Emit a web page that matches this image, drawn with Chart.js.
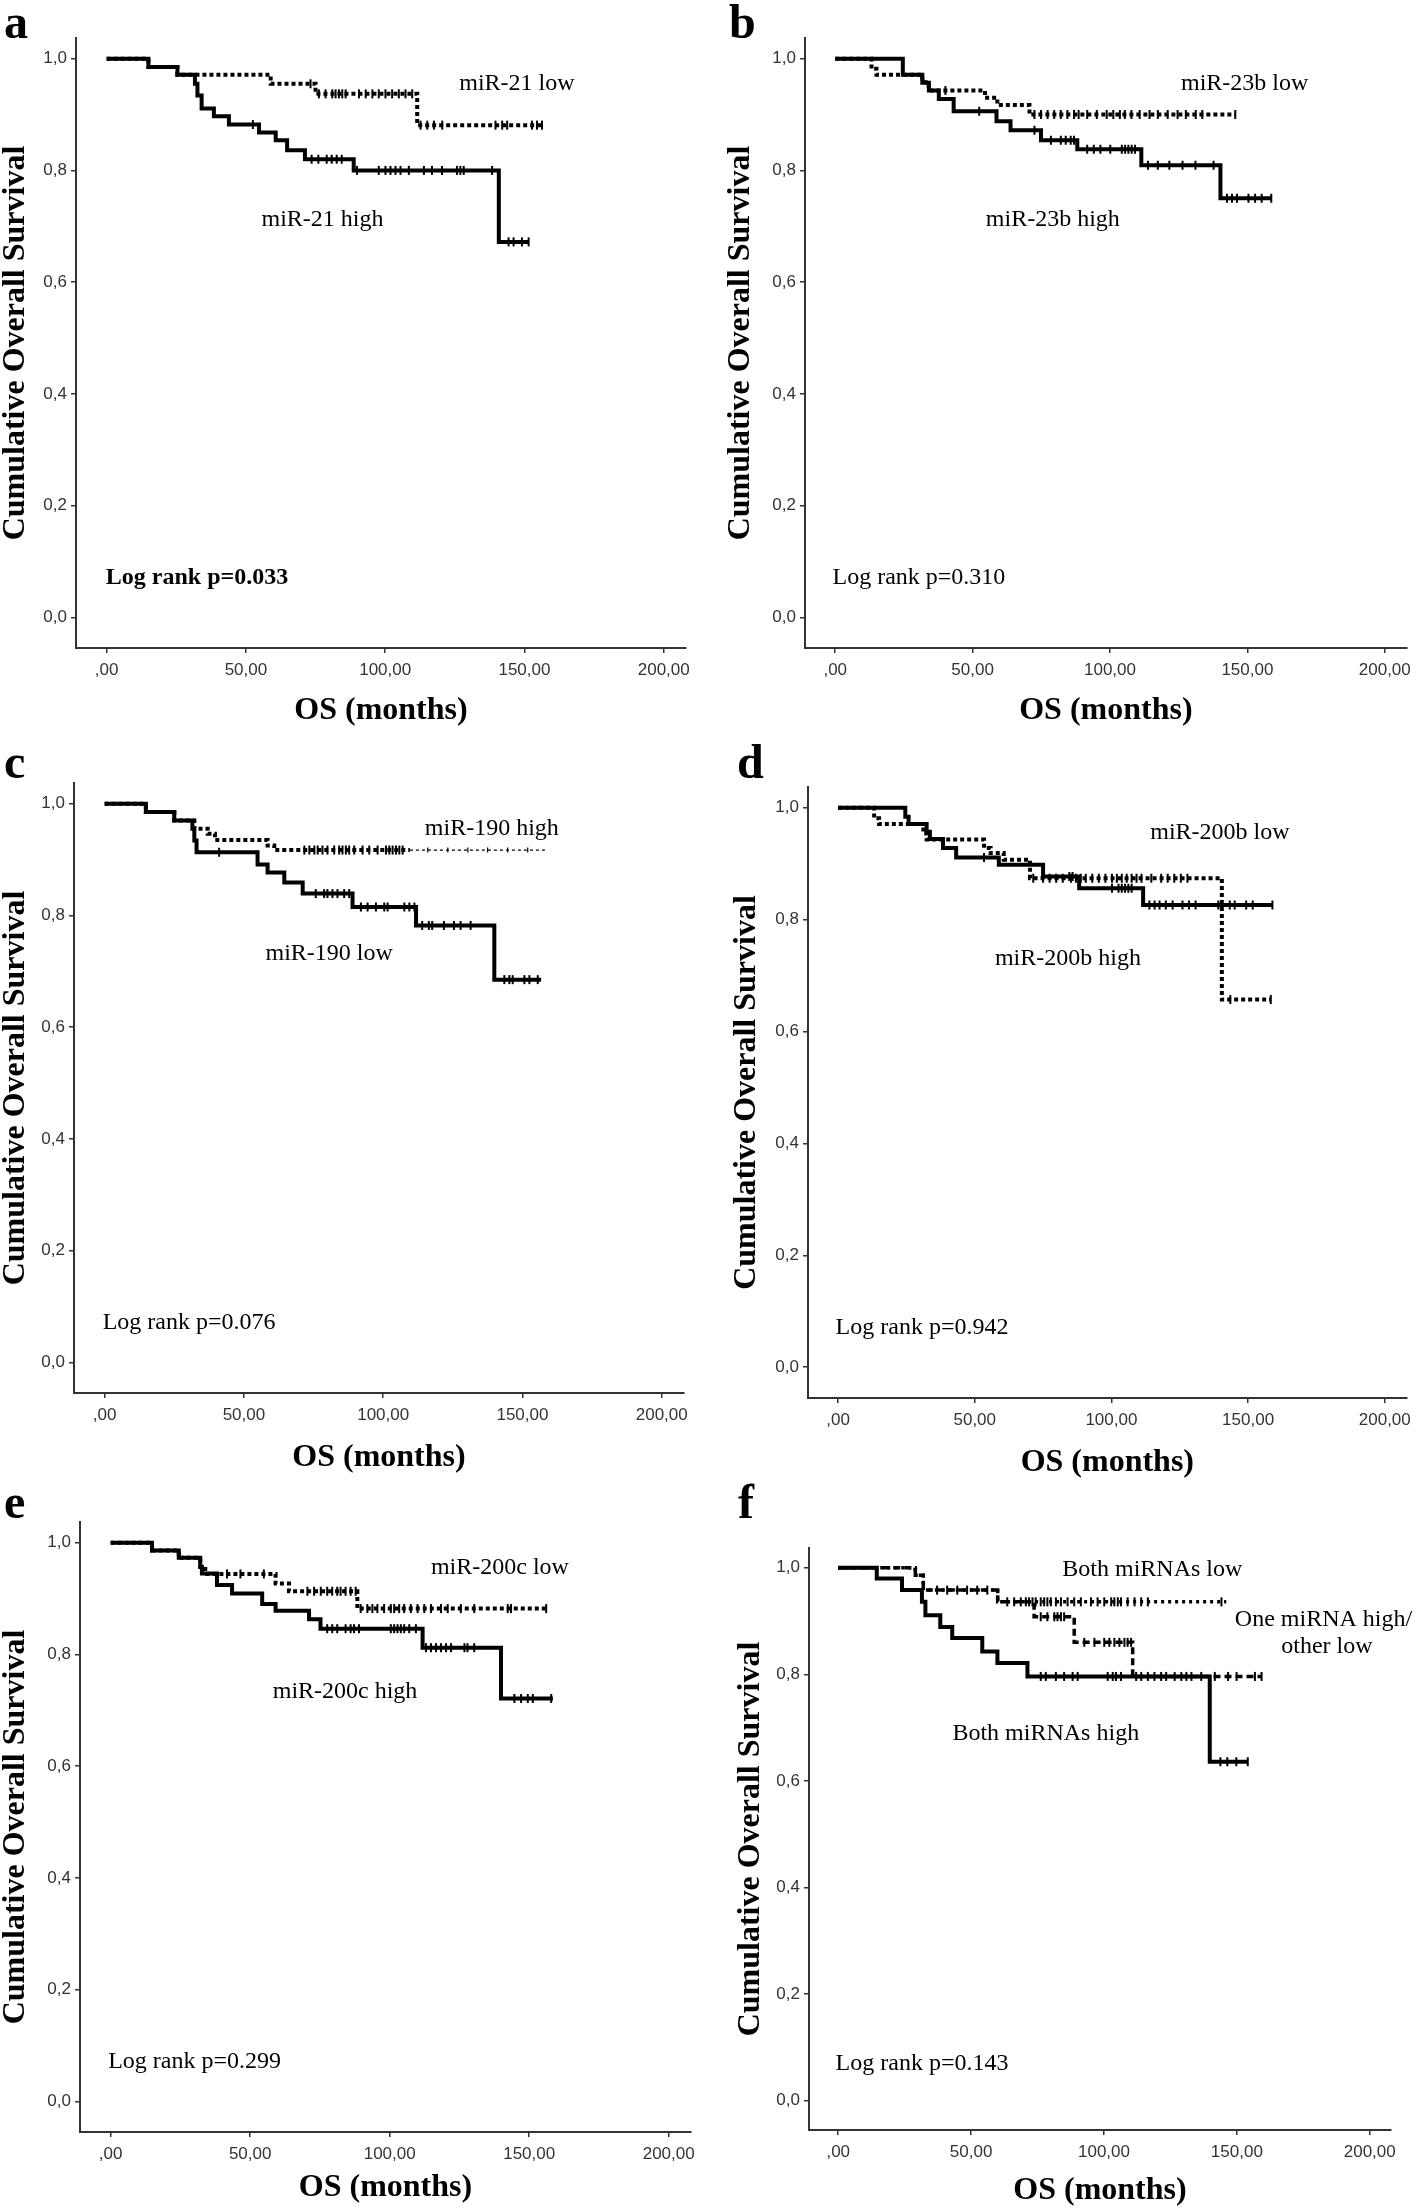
<!DOCTYPE html>
<html>
<head>
<meta charset="utf-8">
<title>Overall survival by miRNA expression</title>
<script src="https://cdn.jsdelivr.net/npm/chart.js@4.4.1/dist/chart.umd.min.js"></script>
<style>
  html, body { margin: 0; padding: 0; background: #fff; }
  #page { position: relative; width: 1418px; height: 2212px; overflow: hidden; background: #fff; }
  #page canvas { position: absolute; }
  .letter { position: absolute; font: bold 48px "Liberation Serif", "Times New Roman", serif; line-height: 1; color: #000; }
</style>
</head>
<body>
<div id="page">
  <canvas id="chartA"></canvas>
  <canvas id="chartB"></canvas>
  <canvas id="chartC"></canvas>
  <canvas id="chartD"></canvas>
  <canvas id="chartE"></canvas>
  <canvas id="chartF"></canvas>
  <div class="letter" style="left:4px;top:-2px">a</div>
  <div class="letter" style="left:729px;top:-2px">b</div>
  <div class="letter" style="left:4px;top:738px">c</div>
  <div class="letter" style="left:737px;top:738px">d</div>
  <div class="letter" style="left:4px;top:1478px">e</div>
  <div class="letter" style="left:738px;top:1478px">f</div>
</div>
<script>
// axis ticks
const xTickValues = [0, 50, 100, 150, 200];
const xTickLabels = [',00', '50,00', '100,00', '150,00', '200,00'];
const yTickValues = [0, 0.2, 0.4, 0.6, 0.8, 1.0];
const yTickLabels = ['0,0', '0,2', '0,4', '0,6', '0,8', '1,0'];
const X_MIN = -11, X_MAX = 208;
const Y_MIN = -0.055, Y_MAX = 1.037;

// a: miR-21
const aHighT = [0, 15, 25.4, 31.7, 32.6, 34.1, 38.5, 43.9, 54.7, 60.7, 64.8, 71.2, 88.7, 140.8, 151.5];
const aHighS = [1, 0.985, 0.971, 0.955, 0.934, 0.911, 0.897, 0.882, 0.868, 0.854, 0.836, 0.820, 0.800, 0.672, 0.672];
const aHighCens = [52.5, 73.6, 76, 79, 80.8, 82.6, 84.4, 89.9, 97.7, 100.1, 101.9, 103.7, 105.5, 108.5, 113.9, 116.8, 120.4, 125.8, 127, 128.2, 138.4, 144.3, 146.1, 149.1, 151.5];
const aLowT = [0, 15, 25.4, 58.9, 75, 111.5, 156.3];
const aLowS = [1, 0.985, 0.971, 0.955, 0.937, 0.881, 0.881];
const aLowCens = [73.2, 76.2, 78.6, 81, 82.2, 83.4, 84.6, 85.8, 90.6, 93, 95.4, 97.7, 100.1, 102.5, 104.9, 107.3, 109.7, 112.7, 115.1, 117.5, 120.5, 139.6, 142, 143.8, 152.7, 154.5, 156.3];

// b: miR-23b
const bHighT = [0, 24.6, 31.7, 34.1, 37.7, 43.1, 58.7, 63.8, 74.9, 88.1, 111.4, 140.2, 158.7];
const bHighS = [1, 0.971, 0.957, 0.943, 0.928, 0.906, 0.888, 0.872, 0.854, 0.838, 0.809, 0.750, 0.750];
const bHighCens = [52.4, 72.5, 78.5, 82.1, 83.9, 85.7, 86.9, 91.7, 94.1, 96.5, 100.1, 104.3, 105.5, 106.7, 107.9, 109.1, 113.8, 117.4, 121.6, 126.4, 131.1, 137.7, 142.6, 144.4, 146.2, 150.4, 152.8, 155.2, 158.7];
const bLowT = [0, 13.2, 15, 31.7, 34, 54.5, 59, 70.7, 145.6];
const bLowS = [1, 0.982, 0.971, 0.958, 0.943, 0.930, 0.917, 0.900, 0.900];
const bLowCens = [40.1, 72.5, 74.9, 77.3, 79.7, 82.1, 84.5, 86.9, 88.6, 91.7, 95.2, 98.8, 101.2, 103.6, 105.4, 107.8, 110.8, 114.4, 117.4, 121, 124.6, 127.6, 131.2, 133.6, 145.6];

// c: miR-190
const cLowT = [0, 14.8, 25, 31.5, 32.2, 33, 54.9, 58.5, 64.5, 71.1, 89, 111.8, 139.9, 156.7];
const cLowS = [1, 0.985, 0.970, 0.955, 0.934, 0.913, 0.891, 0.877, 0.859, 0.839, 0.815, 0.782, 0.685, 0.685];
const cLowCens = [41.1, 75.8, 78.8, 80, 81.8, 83.6, 86, 87.8, 92, 94.4, 97.4, 100.4, 101.6, 107.6, 109.4, 111.2, 114, 116.4, 117.6, 121.8, 125.4, 127.8, 131.4, 143.5, 145.3, 146.5, 150.7, 152.5, 155.5];
const cHighT = [0, 14.8, 25, 32.2, 37, 39.6, 58.5, 60.9, 109.6, 158.5];
const cHighS = [1, 0.985, 0.970, 0.955, 0.946, 0.935, 0.925, 0.917, 0.917, 0.917];
const cHighCens = [71.7, 73.5, 75.3, 76.5, 78.2, 80, 82.4, 84.2, 85.4, 86.6, 87.8, 89.6, 92.6, 95, 98, 101, 102.2, 103.4, 104.6, 105.8, 107, 116, 123.2, 130.4, 137.5, 144.7, 151.9];
const C_THIN_FROM = 109.6; // the high curve is drawn thin after this time

// d: miR-200b
const dHighT = [0, 24.6, 25.8, 32.4, 33.6, 38.4, 43.2, 58.8, 75, 88.2, 111.6, 158.9];
const dHighS = [1, 0.984, 0.971, 0.957, 0.944, 0.928, 0.911, 0.898, 0.877, 0.856, 0.826, 0.826];
const dHighCens = [53.4, 84.6, 85.8, 100.2, 102.6, 103.8, 105, 106.2, 107.4, 113.9, 115.8, 117.6, 119.9, 122.4, 126, 128.4, 130.8, 139.1, 143.3, 145.1, 149.3, 151.7, 158.9];
const dLowT = [0, 13.2, 15, 31.2, 32.4, 53.4, 55.8, 60.6, 70.2, 140.4, 158.3];
const dLowS = [1, 0.981, 0.971, 0.954, 0.943, 0.928, 0.919, 0.907, 0.874, 0.657, 0.657];
const dLowCens = [71.4, 75, 77.4, 79.8, 82.2, 85.2, 87, 88.8, 90.6, 93, 95.4, 97.8, 100.2, 102, 103.8, 105.6, 107.4, 109.2, 111, 114.6, 118.2, 120.6, 123, 125.4, 127.8, 143.5, 158.3];

// e: miR-200c
const eHighT = [0, 14.8, 24.4, 32.1, 32.7, 38.1, 43.5, 54.3, 59.1, 71.1, 75.2, 111.8, 139.9, 158.5];
const eHighS = [1, 0.986, 0.973, 0.957, 0.945, 0.924, 0.909, 0.890, 0.878, 0.863, 0.846, 0.812, 0.721, 0.721];
const eHighCens = [77.6, 79.4, 81.2, 84.2, 86, 87.2, 89, 100.4, 101.6, 102.8, 104, 105.2, 107, 109.4, 113, 114.8, 116.6, 118.4, 120.2, 122, 126.8, 127.9, 130.3, 144.7, 147.1, 149.5, 151.3, 157.9];
const eLowT = [0, 14.8, 24.4, 32.1, 33.9, 59.1, 63.9, 88.4, 156.1];
const eLowS = [1, 0.986, 0.973, 0.957, 0.944, 0.927, 0.913, 0.882, 0.882];
const eLowCens = [41.7, 46.5, 54.9, 70.5, 72.9, 75.3, 77.6, 79.4, 81.2, 82.4, 84.2, 86, 87.8, 89.6, 92, 93.8, 95.6, 98, 100.4, 101.6, 103.4, 105.2, 107.6, 110, 112.4, 114.8, 118.4, 120.8, 125.5, 130.3, 142.3, 143.5, 156.1];

// f: combined miRNAs
const fBothHighT = [0, 14.5, 24, 31.5, 32.8, 38.4, 42.9, 54.2, 59.9, 71.2, 139.8, 154.1];
const fBothHighS = [1, 0.980, 0.958, 0.936, 0.911, 0.889, 0.868, 0.843, 0.821, 0.796, 0.636, 0.636];
const fBothHighCens = [76.2, 78.1, 81.9, 85, 88.2, 90.1, 101.4, 103.3, 104.5, 106.4, 143.8, 146.4, 149.8, 154.1];
const fBothLowT = [0, 29, 32, 60, 146];
const fBothLowS = [1, 0.986, 0.958, 0.936, 0.936];
const fBothLowCens = [37.2, 41, 44.8, 48.5, 52.3, 56.1, 63.6, 66.2, 68.7, 70.6, 71.8, 73.1, 74.3, 76.2, 77.5, 78.7, 80, 81.9, 83.8, 86.3, 88.8, 91.3, 95.1, 97.6, 100.1, 102.7, 103.9, 105.2, 106.4, 108.9, 111.5, 114, 116.5, 144.2];
const fMixedT = [0, 29, 32, 60, 73.7, 88.8, 110.8, 159.3];
const fMixedS = [1, 0.986, 0.958, 0.936, 0.908, 0.86, 0.796, 0.796];
const fMixedCens = [76.2, 78.7, 81.3, 82.5, 83.8, 85, 92.6, 96.4, 100.1, 102, 103.9, 105.8, 107.7, 108.9, 110.2, 112.1, 114, 116.5, 119, 121.5, 123.4, 126.6, 129.1, 131, 132.9, 136.6, 141.7, 146.7, 149.9, 156.8, 159.3];

const SERIF = '"Liberation Serif", "Times New Roman", serif';
const SANS = '"Liberation Sans", Arial, sans-serif';
const AXIS_COLOR = '#333';

Chart.defaults.font.family = SANS;
Chart.defaults.animation = false;

// survival value of a step curve at time t
function survAt(times, surv, t) {
  let v = surv[0];
  for (let i = 0; i < times.length; i++) {
    if (times[i] <= t) v = surv[i];
  }
  return v;
}

const solid = { borderWidth: 4, borderDash: [] };
const dotted = { borderWidth: 4, borderDash: [4, 3] };

function curve(times, surv, style, extra) {
  return Object.assign({
    data: times.map((t, i) => ({ x: t, y: surv[i] })),
    stepped: 'before', // horizontal first, then drop at the event time
    borderColor: '#000',
    borderCapStyle: 'butt',
    pointRadius: 0,
    fill: false
  }, style, extra || {});
}

function censors(times, surv, cens, extra) {
  return Object.assign({
    data: cens.map(c => ({ x: c, y: survAt(times, surv, c) })),
    showLine: false,
    pointStyle: 'line',
    rotation: 90,
    pointRadius: 4.5,
    borderWidth: 2,
    borderColor: '#000',
    backgroundColor: '#000'
  }, extra || {});
}

// text labels drawn in data coordinates
const notesPlugin = {
  id: 'notes',
  afterDatasetsDraw(chart, args, opts) {
    const { ctx } = chart;
    const x = chart.scales.x, y = chart.scales.y;
    (opts.items || []).forEach(n => {
      ctx.save();
      ctx.font = (n.bold ? 'bold ' : '') + '24px ' + SERIF;
      ctx.fillStyle = '#000';
      ctx.textAlign = n.align || 'center';
      ctx.textBaseline = 'middle';
      ctx.fillText(n.text, x.getPixelForValue(n.t), y.getPixelForValue(n.s));
      ctx.restore();
    });
  }
};

function makePanel(id, box, datasets, notes) {
  const [L, T, R, B] = box.plot;
  const el = document.getElementById(id);
  el.width = box.width;
  el.height = box.height;
  el.style.left = box.left + 'px';
  el.style.top = box.top + 'px';

  return new Chart(el, {
    type: 'line',
    data: { datasets: datasets },
    plugins: [notesPlugin],
    options: {
      responsive: false,
      maintainAspectRatio: false,
      layout: { padding: { left: 0, top: T - box.top, right: box.left + box.width - R, bottom: 0 } },
      plugins: {
        legend: { display: false },
        tooltip: { enabled: false },
        notes: { items: notes }
      },
      scales: {
        x: {
          type: 'linear',
          min: X_MIN,
          max: X_MAX,
          afterBuildTicks: s => { s.ticks = xTickValues.map(v => ({ value: v })); },
          afterFit: s => { s.height = box.top + box.height - B; },
          ticks: {
            callback: (v, i) => xTickLabels[i],
            color: AXIS_COLOR,
            font: { size: 17 },
            padding: 7,
            maxRotation: 0
          },
          grid: { drawOnChartArea: false, drawTicks: true, tickLength: 5, color: AXIS_COLOR, lineWidth: 1.5 },
          border: { color: AXIS_COLOR, width: 2 },
          title: {
            display: true,
            text: 'OS (months)',
            color: '#000',
            font: { family: SERIF, size: 32, weight: 'bold', lineHeight: 1 },
            padding: { top: 0, bottom: box.xTitlePad }
          }
        },
        y: {
          type: 'linear',
          min: Y_MIN,
          max: Y_MAX,
          afterBuildTicks: s => { s.ticks = yTickValues.map(v => ({ value: v })); },
          afterFit: s => { s.width = L - box.left; },
          ticks: {
            callback: (v, i) => yTickLabels[i],
            color: AXIS_COLOR,
            font: { size: 17 },
            padding: 4
          },
          grid: { drawOnChartArea: false, drawTicks: true, tickLength: 5, color: AXIS_COLOR, lineWidth: 1.5 },
          border: { color: AXIS_COLOR, width: 2 },
          title: {
            display: true,
            text: 'Cumulative Overall Survival',
            color: '#000',
            font: { family: SERIF, size: 32, weight: 'bold', lineHeight: 1 },
            padding: { top: box.yTitlePad, bottom: 0 }
          }
        }
      }
    }
  });
}

// panel placement on the page: canvas box and plot rectangle [left, top, right, bottom]
const boxes = {
  a: { left: 0, top: 0, width: 709, height: 740, plot: [76, 38, 686, 648], yTitlePad: 0, xTitlePad: 13 },
  b: { left: 709, top: 0, width: 709, height: 740, plot: [805, 38, 1416, 648], yTitlePad: 16, xTitlePad: 13 },
  c: { left: 0, top: 740, width: 709, height: 740, plot: [74, 783, 684, 1393], yTitlePad: 0, xTitlePad: 6 },
  d: { left: 709, top: 740, width: 709, height: 740, plot: [808, 787, 1417, 1398], yTitlePad: 22, xTitlePad: 1 },
  e: { left: 0, top: 1480, width: 709, height: 732, plot: [80, 1522, 691, 2132], yTitlePad: 0, xTitlePad: 8 },
  f: { left: 709, top: 1480, width: 709, height: 732, plot: [809, 1548, 1391, 2130], yTitlePad: 26, xTitlePad: 5 }
};

makePanel('chartA', boxes.a, [
  curve(aHighT, aHighS, solid),
  censors(aHighT, aHighS, aHighCens),
  curve(aLowT, aLowS, dotted),
  censors(aLowT, aLowS, aLowCens)
], [
  { text: 'miR-21 low', t: 147.3, s: 0.956 },
  { text: 'miR-21 high', t: 77.5, s: 0.711 },
  { text: 'Log rank p=0.033', t: -0.3, s: 0.071, align: 'left', bold: true }
]);

makePanel('chartB', boxes.b, [
  curve(bHighT, bHighS, solid),
  censors(bHighT, bHighS, bHighCens),
  curve(bLowT, bLowS, dotted),
  censors(bLowT, bLowS, bLowCens)
], [
  { text: 'miR-23b low', t: 149, s: 0.956 },
  { text: 'miR-23b high', t: 79.2, s: 0.711 },
  { text: 'Log rank p=0.310', t: -1, s: 0.071, align: 'left' }
]);

makePanel('chartC', boxes.c, [
  curve(cLowT, cLowS, solid),
  censors(cLowT, cLowS, cLowCens),
  curve(cHighT, cHighS, dotted, {
    segment: {
      borderWidth: ctx => ctx.p0.parsed.x >= C_THIN_FROM ? 1.3 : 4,
      borderDash: ctx => ctx.p0.parsed.x >= C_THIN_FROM ? [3, 3] : [4, 3]
    }
  }),
  censors(cHighT, cHighS, cHighCens, {
    pointRadius: ctx => (ctx.raw && ctx.raw.x > C_THIN_FROM) ? 2.5 : 4.5,
    borderWidth: ctx => (ctx.raw && ctx.raw.x > C_THIN_FROM) ? 1.2 : 2
  })
], [
  { text: 'miR-190 high', t: 139, s: 0.956 },
  { text: 'miR-190 low', t: 80.6, s: 0.732 },
  { text: 'Log rank p=0.076', t: -0.7, s: 0.070, align: 'left' }
]);

makePanel('chartD', boxes.d, [
  curve(dHighT, dHighS, solid),
  censors(dHighT, dHighS, dHighCens),
  curve(dLowT, dLowS, dotted),
  censors(dLowT, dLowS, dLowCens)
], [
  { text: 'miR-200b low', t: 139.7, s: 0.956 },
  { text: 'miR-200b high', t: 84.1, s: 0.730 },
  { text: 'Log rank p=0.942', t: -0.9, s: 0.070, align: 'left' }
]);

makePanel('chartE', boxes.e, [
  curve(eHighT, eHighS, solid),
  censors(eHighT, eHighS, eHighCens),
  curve(eLowT, eLowS, dotted),
  censors(eLowT, eLowS, eLowCens)
], [
  { text: 'miR-200c low', t: 139.5, s: 0.956 },
  { text: 'miR-200c high', t: 84, s: 0.733 },
  { text: 'Log rank p=0.299', t: -0.9, s: 0.071, align: 'left' }
]);

makePanel('chartF', boxes.f, [
  curve(fBothHighT, fBothHighS, solid),
  censors(fBothHighT, fBothHighS, fBothHighCens),
  curve(fBothLowT, fBothLowS, { borderWidth: 3.5, borderDash: [3, 4] }),
  censors(fBothLowT, fBothLowS, fBothLowCens),
  curve(fMixedT, fMixedS, { borderWidth: 3.5, borderDash: [7, 4] }),
  censors(fMixedT, fMixedS, fMixedCens)
], [
  { text: 'Both miRNAs low', t: 118.2, s: 0.996 },
  { text: 'One miRNA high/', t: 182.6, s: 0.902 },
  { text: 'other low', t: 183.9, s: 0.852 },
  { text: 'Both miRNAs high', t: 78.1, s: 0.689 },
  { text: 'Log rank p=0.143', t: -1, s: 0.0696, align: 'left' }
]);
</script>
</body>
</html>
